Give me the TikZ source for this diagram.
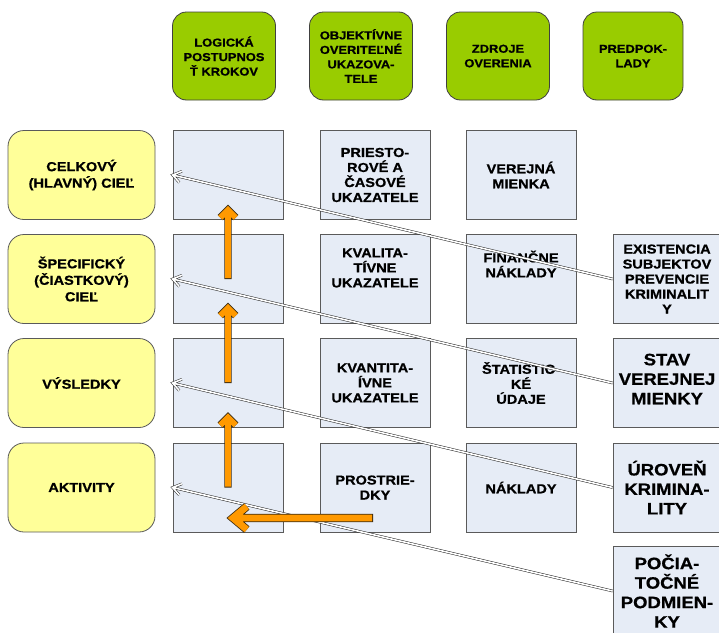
\documentclass[tikz,border=0pt]{standalone}
\usepackage{fontspec}
\newfontfamily\wa{Liberation Sans}[FakeStretch=1.12, UprightFont={* Bold}, FakeBold=0.8]
\usetikzlibrary{calc}
\definecolor{hdrgreen}{HTML}{99CC00}
\definecolor{ylw}{HTML}{FFFF99}
\definecolor{cellblue}{HTML}{E6ECF6}
\definecolor{boxline}{HTML}{5A5A5A}
\definecolor{orfill}{HTML}{FF9900}
\definecolor{orline}{HTML}{3A2A10}
\newcommand\orarr[6]{% start, tip, arm length, arm angle, outer width, inner width
  \draw[draw=orline, line width=#5, line join=miter, miter limit=10]
    ($(#2)!#3!#4:(#1)$) -- (#2) -- ($(#2)!#3!-#4:(#1)$) (#2) -- (#1);
  \draw[draw=orfill, line width=#6, line join=miter, miter limit=10, shorten <=0.8pt, shorten >=0.8pt]
    ($(#2)!#3!#4:(#1)$) -- (#2) -- ($(#2)!#3!-#4:(#1)$) (#2) -- (#1);
}
\newcommand\connarr[2]{% from, to
  \draw[conn] (#1) -- (#2) ($(#2)!10pt!35:(#1)$) -- (#2) -- ($(#2)!10pt!-35:(#1)$);
}
\tikzset{
  hdr/.style={draw=black!75, fill=hdrgreen, rounded corners=14pt, line width=0.8pt,
    minimum width=103pt, minimum height=88pt, align=center, inner sep=0pt,
    font=\wa\fontsize{11.5}{14.5}\selectfont},
  lvl/.style={draw=boxline, fill=ylw, rounded corners=16pt, line width=0.8pt,
    minimum width=147pt, minimum height=89pt, align=center, inner sep=0pt,
    font=\wa\fontsize{13}{16.5}\selectfont},
  cell/.style={draw=boxline, fill=cellblue, line width=0.8pt,
    minimum width=110pt, minimum height=89pt, align=center, inner sep=0pt,
    font=\wa\fontsize{13}{15}\selectfont},
  celltext/.style={align=center, inner sep=0pt, font=\wa\fontsize{13}{15}\selectfont},
  bigcell/.style={cell, minimum width=108pt, font=\wa\fontsize{16.5}{19.5}\selectfont},
  midcell/.style={cell, minimum width=108pt},
  conn/.style={draw=black!85, line width=0.5pt, double=white, double distance=1.6pt, line join=miter},
}
\begin{document}
\begin{tikzpicture}[x=1pt,y=-1pt]
\fill[white] (0,0) rectangle (719,632);
\path[use as bounding box] (0,0) rectangle (719,632);
% headers
\node[hdr] (h1) at (224,56) {LOGICKÁ\\POSTUPNOS\\Ť KROKOV};
\node[hdr] (h2) at (361,56) {OBJEKTÍVNE\\OVERITEĽNÉ\\UKAZOVA-\\TELE};
\node[hdr] (h3) at (498,56) {ZDROJE\\OVERENIA};
\node[hdr, minimum width=100pt] (h4) at (633,56) {PREDPOK-\\LADY};
% levels
\node[lvl] (l1) at (81.5,175) {CELKOVÝ\\(HLAVNÝ) CIEĽ};
\node[lvl] (l2) at (81.5,279) {ŠPECIFICKÝ\\(ČIASTKOVÝ)\\CIEĽ};
\node[lvl] (l3) at (81.5,383) {VÝSLEDKY};
\node[lvl] (l4) at (81.5,487.5) {AKTIVITY};
% column 1
\node[cell] (b1) at (228,175) {};
\node[cell] (b2) at (228,279) {};
\node[cell] (b3) at (228,383) {};
\node[cell] (b4) at (228,487.5) {};
% column 2
\node[cell] (c1) at (375,175) {PRIESTO-\\ROVÉ A\\ČASOVÉ\\UKAZATELE};
\node[cell] (c2) at (375,279) {};
\node[celltext] (c2t) at ([yshift=11pt]c2.center) {KVALITA-\\TÍVNE\\UKAZATELE};
\node[cell] (c3) at (375,383) {KVANTITA-\\ÍVNE\\UKAZATELE};
\node[cell] (c4) at (375,487.5) {PROSTRIE-\\DKY};
% column 3
\node[cell] (d1) at (521,175) {VEREJNÁ\\MIENKA};
\node[cell] (d2) at (521,279) {};
\node[celltext] (d2t) at ([yshift=15pt]d2.center) {FINANČNE\\NÁKLADY};
\node[cell] (d3) at (521,383) {ŠTATISTIC-\\KÉ\\ÚDAJE};
\node[cell] (d4) at (521,487.5) {NÁKLADY};
% column 4
\node[midcell] (e2) at (667,279) {EXISTENCIA\\SUBJEKTOV\\PREVENCIE\\KRIMINALIT\\Y};
\node[bigcell] (e3) at (667,383) {};
\node[celltext, font=\wa\fontsize{16.5}{19.5}\selectfont] (e3t) at ([yshift=4pt]e3.center) {STAV\\VEREJNEJ\\MIENKY};
\node[bigcell] (e4) at (667,487.5) {ÚROVEŇ\\KRIMINA-\\LITY};
\node[bigcell] (e5) at (667,591) {POČIA-\\TOČNÉ\\PODMIEN-\\KY};
% connectors
\connarr{e2.west}{b1.west}
\connarr{e3.west}{b2.west}
\connarr{e4.west}{b3.west}
\connarr{e5.west}{b4.west}
% orange arrows
\coordinate (t1) at ([yshift=10pt]b1.south);
\coordinate (t2) at ([yshift=16pt]b2.south);
\coordinate (t3) at ([yshift=10.5pt]b3.south);
\coordinate (s4) at ([xshift=-2pt,yshift=-30.5pt]c4.center);
\coordinate (t4) at ([xshift=5pt,yshift=-30.5pt]b4.center);
\orarr{b2.center}{t1}{11pt}{45}{7.4pt}{5.8pt}
\orarr{b3.center}{t2}{11pt}{45}{7.4pt}{5.8pt}
\orarr{b4.center}{t3}{11pt}{45}{7.4pt}{5.8pt}
\orarr{s4}{t4}{18pt}{40}{8.4pt}{6.8pt}
\end{tikzpicture}
\end{document}
